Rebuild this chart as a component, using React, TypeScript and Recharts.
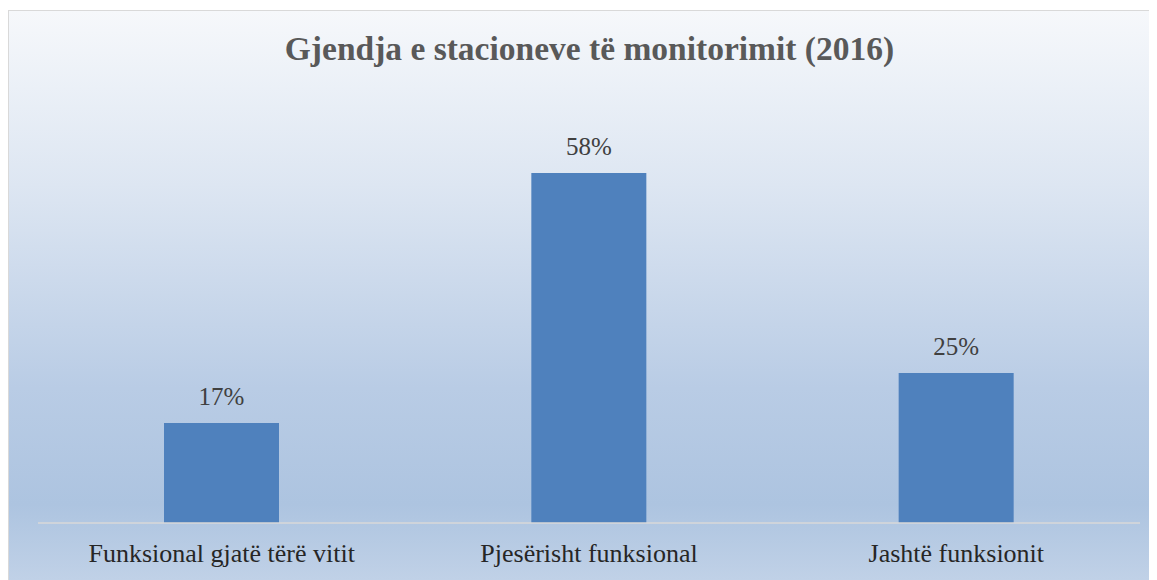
import { BarChart, Bar, XAxis, YAxis, LabelList } from "recharts";

// Chart data
const categories = ["Funksional gjatë tërë vitit", "Pjesërisht funksional", "Jashtë funksionit"];
const shares = [16.67, 58.33, 25];
const title = "Gjendja e stacioneve të monitorimit (2016)";

const data = categories.map((name, i) => ({ name, share: shares[i] }));

const FONT = "'Liberation Serif', 'DejaVu Serif', serif";

const CategoryTick = ({ x, y, payload }: any) => (
  <text x={x} y={y + 39} textAnchor="middle" fill="#262626" fontSize={26} fontFamily={FONT}>
    {payload.value}
  </text>
);

const ValueLabel = ({ x, y, width, value }: any) => (
  <text x={x + width / 2} y={y - 18} textAnchor="middle" fill="#404040" fontSize={25} fontFamily={FONT}>
    {Math.round(value)}%
  </text>
);

const App = () => {
  return (
    <div
      style={{
        position: "relative",
        marginTop: 2,
        width: 1150,
        height: 580,
        border: "1px solid #d9d9d9",
        background: "linear-gradient(to bottom, #f6f8fb 0%, #dde6f2 30%, #b9cce5 65%, #adc4e0 85%, #c3d3e8 100%)",
      }}
    >
      <div
        style={{
          position: "absolute",
          top: 21,
          left: 0,
          width: 1161,
          textAlign: "center",
          fontFamily: FONT,
          fontWeight: "bold",
          fontSize: 33.5,
          lineHeight: "33px",
          color: "#595959",
        }}
      >
        {title}
      </div>
      <BarChart
        width={1148}
        height={570}
        data={data}
        margin={{ top: 92, right: 17, left: 29, bottom: 0 }}
        barSize={115}
      >
        <XAxis
          dataKey="name"
          height={58}
          tickLine={false}
          tickSize={0}
          tickMargin={0}
          axisLine={{ stroke: "#d9d9d9", strokeWidth: 1.5 }}
          tick={<CategoryTick />}
          interval={0}
        />
        <YAxis hide domain={[0, 70]} />
        <Bar dataKey="share" fill="#4f81bd" isAnimationActive={false}>
          <LabelList dataKey="share" content={<ValueLabel />} />
        </Bar>
      </BarChart>
    </div>
  );
};

export default App;
